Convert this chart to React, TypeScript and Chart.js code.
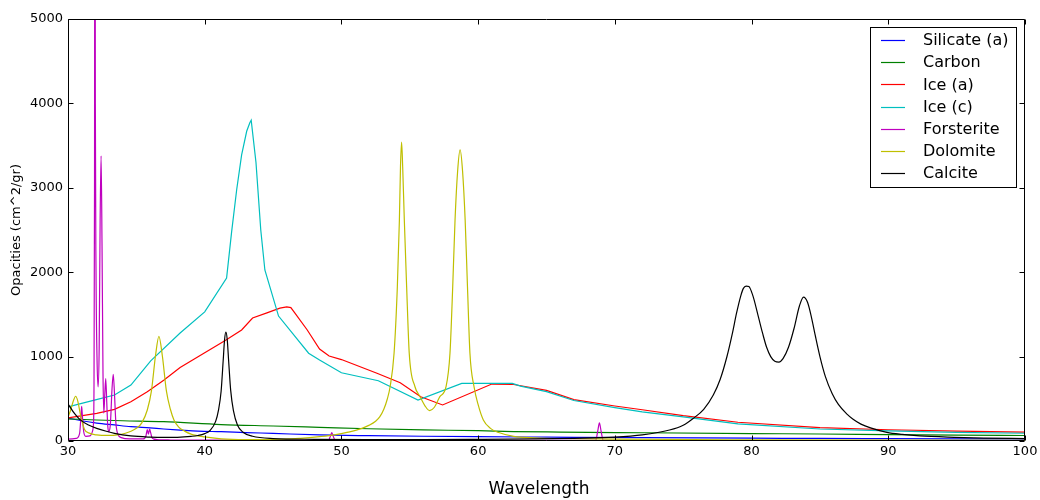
import React, { useEffect, useRef } from 'react';
import { Chart, registerables } from 'chart.js';

Chart.register(...registerables);

// ---- data ----
const seriesLabels = ['Silicate (a)', 'Carbon', 'Ice (a)', 'Ice (c)', 'Forsterite', 'Dolomite', 'Calcite'];
const seriesColors = ['#0000ff', '#008000', '#ff0000', '#00bfbf', '#bf00bf', '#bfbf00', '#000000'];
const xAxisTitle = 'Wavelength';
const yAxisTitle = 'Opacities (cm^2/gr)';

const xTickValues = [30, 40, 50, 60, 70, 80, 90, 100];
const yTickValues = [0, 1000, 2000, 3000, 4000, 5000];

const silX = [30, 31, 32.1, 33.4, 34.6, 36, 37, 38.2, 39.5, 41.2, 43, 45, 48.4, 52, 56, 60, 65, 72, 80, 85, 90, 95, 100];
const silY = [272, 240, 212, 190, 170, 155, 142, 130, 118, 110, 100, 90, 72, 63, 56, 51, 46, 39, 34, 30, 28, 26, 24];

const carX = [30, 32.1, 34, 37, 41.2, 45, 48.4, 52, 56, 60, 62.6, 66, 72, 80, 85, 90, 95, 100];
const carY = [262, 249, 240, 229, 195, 178, 162, 145, 132, 122, 112, 106, 98, 88, 83, 76, 70, 65];

const iceAX = [30, 32.1, 33.4, 34.6, 35.8, 37, 38.2, 40, 41.5, 42.7, 43.5, 44.5, 45.5, 46, 46.3, 46.6, 47.5, 48.4, 49.1, 50, 52.6, 54.3, 55.8, 57.4, 61, 62.5, 65, 67, 70, 72, 75, 79, 85, 90, 95, 100];
const iceAY = [275, 328, 375, 466, 584, 720, 870, 1045, 1190, 1315, 1457, 1515, 1575, 1590, 1580, 1515, 1315, 1090, 1007, 965, 802, 691, 525, 427, 675, 672, 600, 490, 415, 370, 300, 222, 158, 133, 117, 105];

const iceCX = [30, 31, 32, 33.4, 34.6, 36.05, 38.2, 40, 41.6, 41.97, 42.34, 42.7, 43.07, 43.3, 43.4, 43.75, 44.1, 44.4, 45.4, 47.6, 48.4, 50, 52.7, 55.6, 58.8, 62.5, 63.1, 65, 67, 70, 72, 75, 79, 85, 90, 95, 100];
const iceCY = [405, 446, 487, 545, 663, 950, 1280, 1530, 1930, 2480, 2980, 3390, 3670, 3770, 3800, 3300, 2500, 2026, 1480, 1040, 960, 809, 714, 486, 683, 683, 651, 585, 480, 395, 345, 285, 202, 142, 120, 103, 92];

const forX = [30, 30.6, 30.85, 30.95, 31.0, 31.05, 31.15, 31.3, 31.6, 31.8, 31.86, 31.9, 31.94, 31.97, 32.0, 32.05, 32.12, 32.2, 32.28, 32.35, 32.42, 32.49, 32.56, 32.62, 32.69, 32.76, 32.83, 32.9, 32.97, 33.1, 33.22, 33.31, 33.4, 33.5, 33.65, 33.9, 34.5, 35.5, 35.7, 35.8, 35.88, 35.97, 36.06, 36.14, 36.25, 36.5, 37.5, 40, 45, 49.05, 49.2, 49.3, 49.4, 49.55, 55, 62, 68.6, 68.75, 68.87, 68.99, 69.15, 75, 85, 100];
const forY = [22, 30, 90, 300, 410, 300, 110, 55, 60, 120, 200, 600, 3000, 9000, 4000, 2000, 1000, 640, 1100, 2600, 3380, 2300, 800, 330, 550, 740, 480, 200, 110, 200, 620, 790, 560, 220, 80, 40, 25, 25, 60, 135, 80, 140, 90, 40, 25, 18, 12, 10, 8, 10, 60, 100, 55, 10, 8, 7, 7, 120, 215, 120, 7, 6, 5, 5];

const dolX = [30, 30.2, 30.4, 30.56, 30.72, 30.9, 31.2, 31.6, 32.1, 33, 33.6, 34.2, 34.6, 35, 35.4, 35.8, 36.1, 36.4, 36.65, 36.9, 37.2, 37.5, 37.75, 38.1, 38.5, 39, 40, 41.2, 43, 45, 47, 48.4, 49.5, 50.5, 51.5, 52, 52.5, 52.8, 53.1, 53.35, 53.56, 53.85, 54.09, 54.24, 54.32, 54.4, 54.48, 54.6, 54.77, 54.96, 55.38, 55.75, 56.1, 56.45, 56.8, 57.2, 57.65, 57.94, 58.14, 58.31, 58.5, 58.68, 58.86, 59.05, 59.22, 59.4, 59.7, 60, 60.38, 60.9, 61.5, 62.6, 64, 67, 70, 80, 90, 100];
const dolY = [280, 370, 480, 530, 470, 320, 140, 90, 72, 66, 72, 92, 115, 150, 215, 367, 590, 1010, 1240, 1010, 590, 370, 250, 165, 120, 82, 48, 26, 18, 18, 32, 51, 72, 105, 150, 185, 235, 285, 375, 495, 643, 1039, 1828, 2619, 3250, 3540, 3250, 2619, 1828, 1039, 643, 525, 420, 360, 400, 525, 643, 1039, 1828, 2619, 3200, 3450, 3200, 2619, 1828, 1039, 643, 430, 249, 150, 100, 55, 38, 28, 22, 14, 10, 8];

const calX = [30, 30.5, 30.9, 31.5, 32.1, 32.8, 33.4, 34.6, 36, 37, 38, 39, 39.5, 40, 40.4, 40.8, 41, 41.2, 41.35, 41.45, 41.55, 41.65, 41.75, 41.9, 42.1, 42.4, 42.8, 43.5, 45, 48, 52, 56, 60, 64, 67, 70, 72, 74, 75, 75.7, 76.5, 77.2, 77.7, 78.2, 78.6, 78.9, 79.2, 79.4, 79.6, 79.8, 80.1, 80.5, 80.8, 81.1, 81.4, 81.7, 82.0, 82.3, 82.7, 83.1, 83.5, 83.8, 84.1, 84.4, 84.65, 85, 85.4, 85.9, 86.35, 87, 87.4, 88, 88.7, 89.9, 91, 92.3, 94.8, 97, 100];
const calY = [440, 320, 250, 190, 150, 115, 90, 60, 46, 42, 44, 55, 65, 87, 127, 232, 359, 590, 950, 1196, 1290, 1196, 950, 600, 359, 187, 104, 56, 29, 20, 17, 17, 20, 25, 32, 46, 72, 130, 187, 264, 376, 545, 728, 1001, 1278, 1514, 1714, 1808, 1836, 1830, 1719, 1470, 1280, 1110, 1000, 945, 935, 975, 1110, 1330, 1600, 1705, 1640, 1450, 1256, 1000, 763, 560, 434, 315, 260, 200, 155, 102, 78, 60, 44, 35, 28];

const seriesX = [silX, carX, iceAX, iceCX, forX, dolX, calX];
const seriesY = [silY, carY, iceAY, iceCY, forY, dolY, calY];
const smoothSeries = [true, true, false, false, true, true, true];

const frameTicksPlugin = {
  id: 'frameTicks',
  afterDatasetsDraw(chart: any) {
    const { ctx, chartArea } = chart;
    const xs = chart.scales.x;
    const ys = chart.scales.y;
    const L = Math.round(chartArea.left) + 0.5;
    const R = Math.round(chartArea.right) - 0.5;
    const T = Math.round(chartArea.top) + 0.5;
    const B = Math.round(chartArea.bottom) - 0.5;
    ctx.save();
    ctx.strokeStyle = '#000';
    ctx.lineWidth = 1;
    ctx.beginPath();
    ctx.rect(L, T, R - L, B - T);
    ctx.stroke();
    const len = 5;
    ctx.beginPath();
    xTickValues.forEach((v) => {
      const p = Math.round(xs.getPixelForValue(v)) + 0.5;
      ctx.moveTo(p, B); ctx.lineTo(p, B - len);
      ctx.moveTo(p, T); ctx.lineTo(p, T + len);
    });
    yTickValues.forEach((v) => {
      const p = Math.round(ys.getPixelForValue(v)) + 0.5;
      ctx.moveTo(L, p); ctx.lineTo(L + len, p);
      ctx.moveTo(R, p); ctx.lineTo(R - len, p);
    });
    ctx.stroke();
    // x axis title
    ctx.fillStyle = '#000';
    ctx.font = '17px "DejaVu Sans"';
    ctx.textAlign = 'center';
    ctx.textBaseline = 'middle';
    ctx.fillText(xAxisTitle, 539, 490);
    ctx.restore();
  },
  afterDraw(chart: any) {
    const { ctx } = chart;
    ctx.save();
    const bx = 870.5, by = 27.5, bw = 146, bh = 160;
    ctx.fillStyle = '#fff';
    ctx.fillRect(bx, by, bw, bh);
    ctx.strokeStyle = '#000';
    ctx.lineWidth = 1;
    ctx.strokeRect(bx, by, bw, bh);
    ctx.font = '16px "DejaVu Sans"';
    ctx.textBaseline = 'middle';
    ctx.textAlign = 'left';
    seriesLabels.forEach((label, i) => {
      const y = 40 + i * 22.2;
      ctx.strokeStyle = seriesColors[i];
      ctx.lineWidth = 1.2;
      ctx.beginPath();
      ctx.moveTo(881, Math.round(y) + 0.5);
      ctx.lineTo(905, Math.round(y) + 0.5);
      ctx.stroke();
      ctx.fillStyle = '#000';
      ctx.fillText(label, 923, y + 1);
    });
    ctx.restore();
  },
};

export default function App() {
  const ref = useRef<HTMLCanvasElement>(null);
  useEffect(() => {
    if (!ref.current) return;
    const datasets = seriesLabels.map((label, i) => ({
      label,
      data: seriesX[i].map((x, j) => ({ x, y: seriesY[i][j] })),
      borderColor: seriesColors[i],
      backgroundColor: seriesColors[i],
      borderWidth: 1.2,
      pointRadius: 0,
      fill: false,
      tension: 0,
      cubicInterpolationMode: smoothSeries[i] ? 'monotone' : 'default',
      order: seriesLabels.length - i,
    }));
    const chart = new Chart(ref.current, {
      type: 'line',
      data: { datasets } as any,
      options: {
        responsive: false,
        animation: false,
        events: [],
        layout: { padding: { left: 0, right: 15, top: 19, bottom: 0 } },
        plugins: { legend: { display: false }, tooltip: { enabled: false } },
        scales: {
          x: {
            type: 'linear',
            min: 30,
            max: 100,
            afterBuildTicks: (s: any) => { s.ticks = xTickValues.map((v) => ({ value: v })); },
            afterFit: (s: any) => { s.height = 59; s.paddingLeft = 0; s.paddingRight = 0; s.paddingTop = 0; s.paddingBottom = 0; },
            grid: { display: false, drawTicks: false },
            border: { display: false },
            ticks: { color: '#000', padding: 3, font: { family: 'DejaVu Sans', size: 13 }, maxRotation: 0, autoSkip: false, callback: (v: any) => String(v) },
            title: { display: false },
          },
          y: {
            type: 'linear',
            min: 0,
            max: 5000,
            afterBuildTicks: (s: any) => { s.ticks = yTickValues.map((v) => ({ value: v })); },
            afterFit: (s: any) => { s.width = 68; s.paddingLeft = 0; s.paddingRight = 0; s.paddingTop = 0; s.paddingBottom = 0; },
            grid: { display: false, drawTicks: false },
            border: { display: false },
            ticks: { color: '#000', padding: 5, font: { family: 'DejaVu Sans', size: 13 }, autoSkip: false, callback: (v: any) => String(v) },
            title: { display: true, text: yAxisTitle, color: '#000', font: { family: 'DejaVu Sans', size: 13 }, padding: { top: 9, bottom: 0 } },
          },
        },
      } as any,
      plugins: [frameTicksPlugin],
    });
    return () => chart.destroy();
  }, []);
  return (
    <div style={{ position: 'absolute', left: 0, top: 0, width: 1040, height: 500, background: '#fff' }}>
      <canvas ref={ref} width={1040} height={500} style={{ display: 'block' }} />
    </div>
  );
}
